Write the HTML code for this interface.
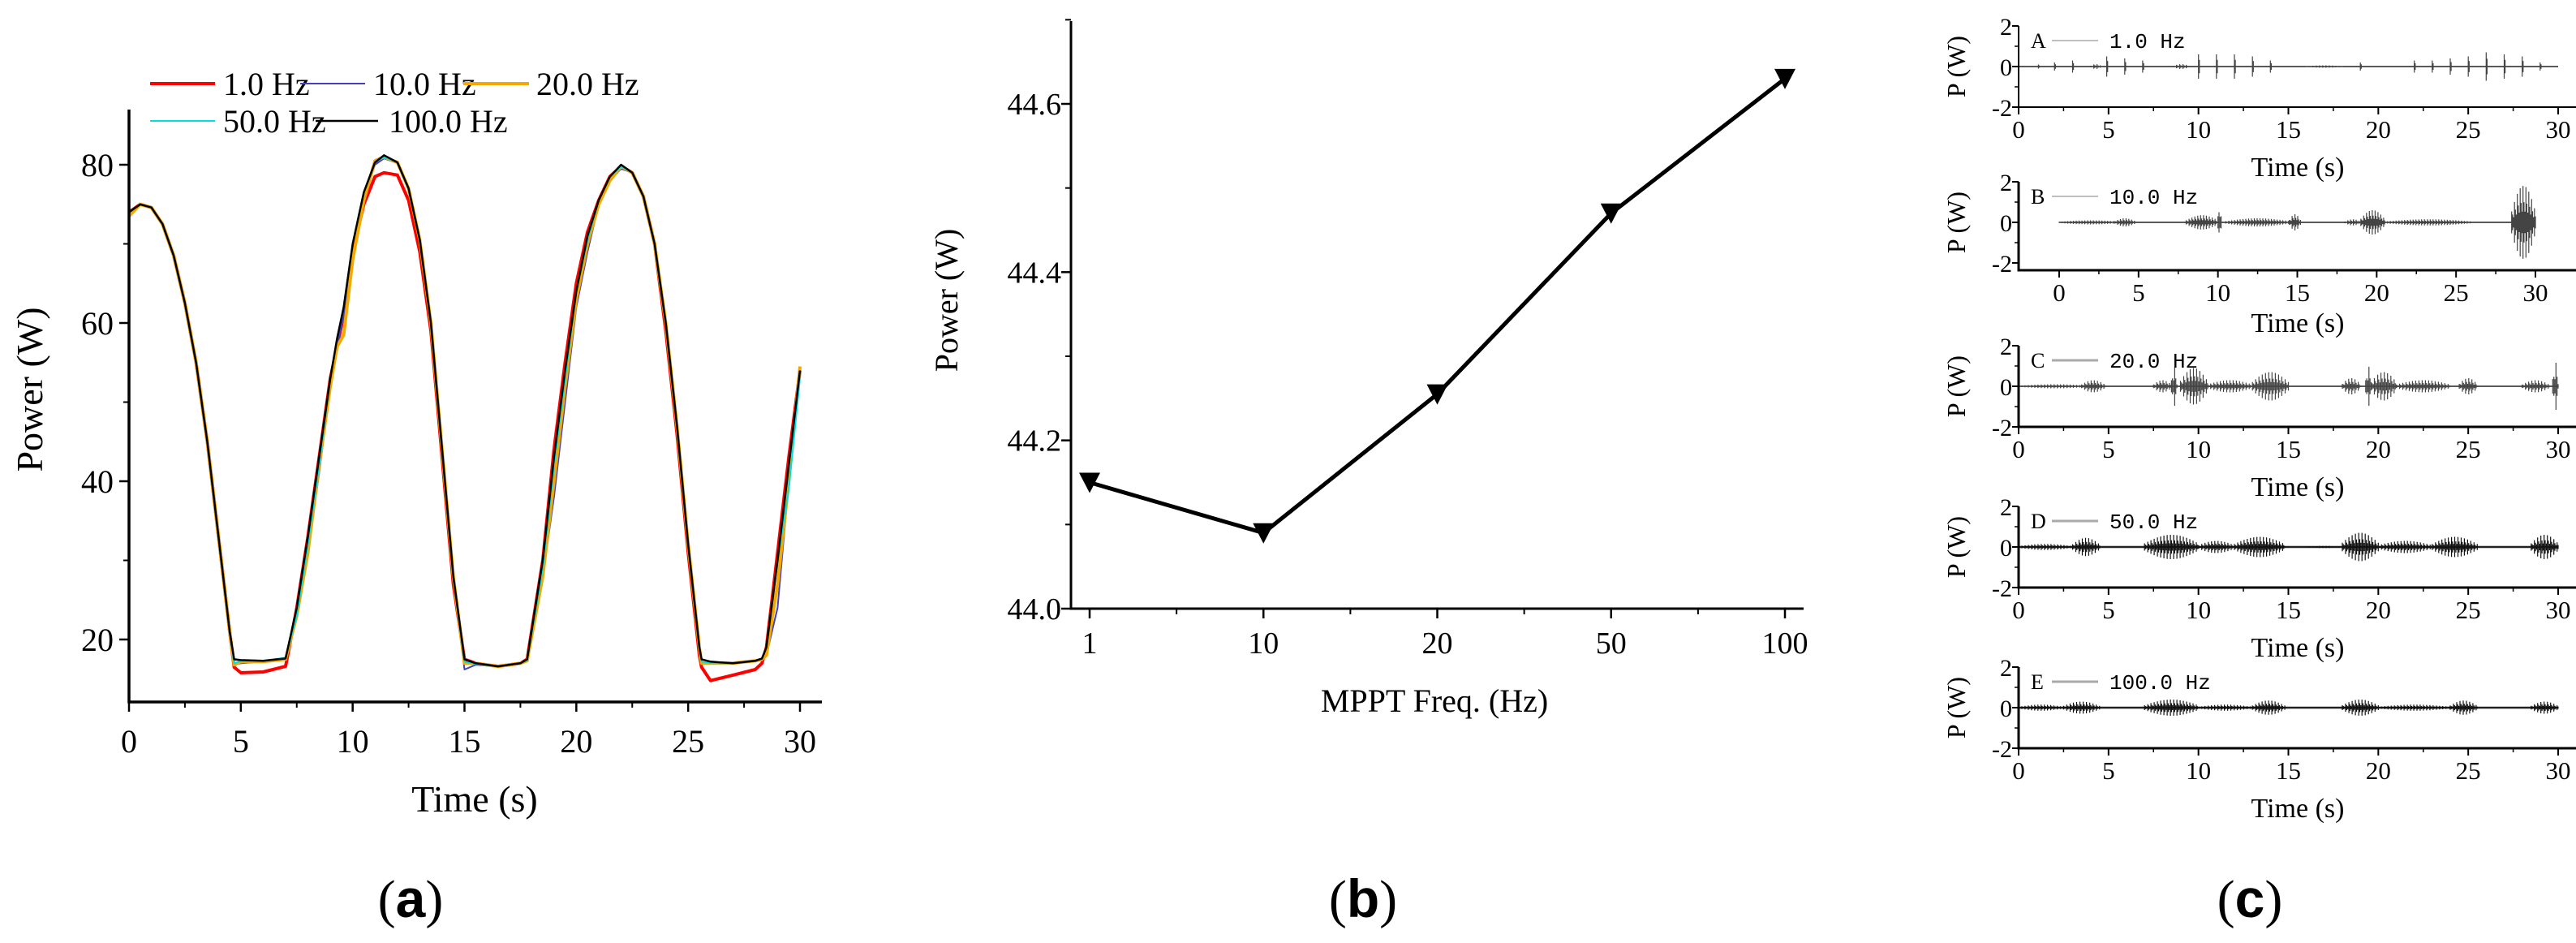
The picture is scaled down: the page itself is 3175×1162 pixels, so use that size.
<!DOCTYPE html>
<html><head><meta charset="utf-8"><style>
html,body{margin:0;padding:0;background:#fff;}
svg{display:block;font-family:"Liberation Serif",serif;}
</style></head><body>
<svg id="fig" width="3175" height="1162" viewBox="0 0 3175 1162" xmlns="http://www.w3.org/2000/svg">
<g id="ga"></g>
<g id="gb"></g>
<g id="gc"></g>
<text x="506" y="1130" font-size="66" text-anchor="middle">(<tspan font-weight="bold" font-family="Liberation Sans, sans-serif">a</tspan>)</text>
<text x="1680" y="1130" font-size="66" text-anchor="middle">(<tspan font-weight="bold" font-family="Liberation Sans, sans-serif">b</tspan>)</text>
<text x="2773" y="1130" font-size="66" text-anchor="middle">(<tspan font-weight="bold" font-family="Liberation Sans, sans-serif">c</tspan>)</text>
</svg>
<script>
// ---------- Chart (a) data ----------
const aTime = [0,0.5,1,1.5,2,2.5,3,3.5,4,4.5,4.7,5,6,7,7.5,8,8.5,9,9.3,9.6,10,10.5,11,11.4,12,12.5,13,13.5,14,14.5,15,15.5,16.5,17.5,17.8,18.5,19,19.5,20,20.5,21,21.5,22,22.5,23,23.5,24,24.5,25,25.5,25.6,26,27,28,28.3,28.5,29,29.5,30];
const aP100 = [74,75,74.6,72.5,68.5,62.5,55,45,33,21,17.5,17.4,17.3,17.6,24,33,43,53,58,62,70,76.5,80.3,81.2,80.3,77,70.5,60,44,28,17.5,17,16.6,17,17.5,30,43,54,64,71,75.5,78.5,80,79,76,70,60,47,32,19,17.5,17.2,17,17.3,17.6,19,30,42,54];
const aP1 = [74,75,74.6,72.5,68.5,62.5,55,45,33,21,16.5,15.8,15.9,16.6,24,33,43,53,57,61,69,75,78.5,79,78.7,75.5,69,59,43,27,17.5,17,16.6,17,17.5,30,44,55,65,71.5,75.5,78.5,79.8,79,76,70,59,46,31,18,16.5,14.8,15.5,16.2,17,19,31,43,54];
const aP10 = [74,75,74.6,72.5,68.5,62.5,55,45,33,21,16.8,17,17.2,17.6,23,31,41,52,57,61,70,76,80,80.8,80.2,77,70.5,60,44,28,16.2,16.8,16.6,17,17.4,28,38,50,62,69,75,78,79.5,79,76,70,60,47,32,19,17,17,17,17.3,17.5,18,24,40,54];
const aP20 = [73.5,75,74.6,72.5,68.5,62.5,55,45,33,21,16.8,17.2,17.2,17.5,23,31,42,52,57,58.5,68,75.5,80.5,81,80.3,77,70.5,60,44,28,17,17,16.6,17,17.3,28,40,52,63,70,75,78,79.8,79,76,70,60,47,32,19,17,17,17,17.3,17.5,18,27,40,54.5];
const aP50 = [74,75,74.6,72.5,68.5,62.5,55,45,33,21,17,17.3,17.3,17.7,23,32,42,53,58,62,70,76.5,80.3,81,80.3,77,70.5,60,44,28,17.2,16.9,16.6,17,17.4,29,42,53,64,70.5,75.5,78.5,79.8,79,76,70,60,47,32,19,17.2,17,17,17.3,17.6,19,30,39,53];
const aSeriesNames = ["1.0 Hz","10.0 Hz","20.0 Hz","50.0 Hz","100.0 Hz"];
const aXTicks = [0,5,10,15,20,25,30];
const aYTicks = [20,40,60,80];
// ---------- Chart (b) data ----------
const bCats = ["1","10","20","50","100"];
const bVals = [44.15,44.09,44.255,44.47,44.63];
const bYTicks = ["44.0","44.2","44.4","44.6"];
// ---------- Chart (c) data ----------
const cLetters = ["A","B","C","D","E"];
const cLegend = ["1.0 Hz","10.0 Hz","20.0 Hz","50.0 Hz","100.0 Hz"];
const cXTicks = [0,5,10,15,20,25,30];
const cYTicks = [2,0,-2];
const cBurstStart = [
 [4,8.6,16,1.1,2,3,4.9,5.9,6.9,10,11,12,13,14,19,22,23,24,25,26,27,28,29],
 [0,3.5,8,10,10.5,14.5,18,19,20.5,28.5],
 [0,3.5,7.5,8.5,9,10.5,13,18,19.3,19.6,21,24.5,28,29.7],
 [0,3,7,10,12,16,18,20,23,28.5],
 [0,2.5,7,10,13,18,20,24,28.5]];
const cBurstEnd = [
 [4.6,9.5,18,1.15,2.05,3.05,4.95,5.95,6.95,10.05,11.05,12.05,13.05,14.05,19.05,22.05,23.05,24.05,25.05,26.05,27.05,28.05,29.05],
 [4,4.8,10,10.2,14.5,15.2,19,20.5,26,30],
 [4,4.8,8.5,8.8,10.5,13,15,19,19.6,21,24,25.5,29.5,30],
 [3,4.5,10,12,14.8,18,20,23,25.5,30],
 [2.5,4.5,10,13,14.8,20,24,25.5,30]];
const cBurstAmp = [
 [0.12,0.12,0.06,0.1,0.2,0.3,0.5,0.4,0.3,0.6,0.6,0.6,0.5,0.3,0.2,0.3,0.3,0.4,0.5,0.7,0.6,0.5,0.2],
 [0.1,0.2,0.35,1.0,0.2,0.4,0.15,0.6,0.15,1.8],
 [0.1,0.3,0.3,1.0,0.9,0.3,0.7,0.4,1.0,0.7,0.3,0.4,0.3,1.2],
 [0.15,0.45,0.6,0.3,0.5,0.05,0.7,0.3,0.5,0.6],
 [0.15,0.3,0.4,0.15,0.35,0.4,0.15,0.35,0.3]];

const NS="http://www.w3.org/2000/svg";
function mk(parent,tag,attrs,text){const e=document.createElementNS(NS,tag);for(const k in attrs)e.setAttribute(k,attrs[k]);if(text!==undefined)e.textContent=text;parent.appendChild(e);return e;}

// ===== Chart (a) =====
(function(){
 const g=document.getElementById('ga');
 const x0=159,x1=986,yb=865,ytop=135;
 const X=t=>x0+(x1-x0)*t/30;
 const Y=v=>788-(v-20)*(788-203)/60;
 const series=[[aP1,"#ff0000",4],[aP10,"#4040c0",2],[aP20,"#f5a800",4],[aP50,"#00e0e0",2],[aP100,"#000000",2.5]];
 series.forEach((s,i)=>{
  const d=aTime.map((t,j)=>(j?'L':'M')+X(t).toFixed(1)+','+Y(s[0][j]).toFixed(1)).join('');
  const p=mk(g,'path',{d:d,fill:'none',stroke:s[1],'stroke-width':s[2],'stroke-linejoin':'round'});
  
  
 });
 const ya=mk(g,'line',{x1:x0,x2:x0,y1:ytop,y2:yb+1.5,stroke:'#000','stroke-width':3.5});
 
 
 const xa=mk(g,'line',{x1:x0-1.5,x2:1013,y1:yb,y2:yb,stroke:'#000','stroke-width':3.5});
 
 
 aXTicks.forEach(t=>{
  mk(g,'line',{x1:X(t),x2:X(t),y1:yb,y2:yb+12,stroke:'#000','stroke-width':2.5});
  if(t<30) mk(g,'line',{x1:X(t+2.5),x2:X(t+2.5),y1:yb,y2:yb+7,stroke:'#000','stroke-width':2});
  const tl=mk(g,'text',{x:X(t),y:927,'font-size':40,'text-anchor':'middle'},String(t));
  
  
 });
 aYTicks.forEach(v=>{
  mk(g,'line',{x1:x0-12,x2:x0,y1:Y(v),y2:Y(v),stroke:'#000','stroke-width':2.5});
  if(v>20) mk(g,'line',{x1:x0-7,x2:x0,y1:Y(v-10),y2:Y(v-10),stroke:'#000','stroke-width':2});
  const tl=mk(g,'text',{x:140,y:Y(v)+14,'font-size':40,'text-anchor':'end'},String(v));
  
  
 });
 const xt=mk(g,'text',{x:585,y:1000,'font-size':46,'text-anchor':'middle'},'Time (s)');
 
 
 const yt2=mk(g,'text',{x:0,y:0,'font-size':46,'text-anchor':'middle',transform:'translate(52,480) rotate(-90)'},'Power (W)');
 
 
 const leg=[[185,265,275,103,0],[370,450,460,103,1],[571,652,661,103,2],[185,265,275,149,3],[389,466,479,149,4]];
 leg.forEach(l=>{
  const s=series[l[4]];
  const lg=mk(g,'g',{});
  
  
  mk(lg,'line',{x1:l[0],x2:l[1],y1:l[3],y2:l[3],stroke:s[1],'stroke-width':s[2]});
  mk(lg,'text',{x:l[2],y:l[3]+14,'font-size':40},aSeriesNames[l[4]]);
 });
})();

// ===== Chart (b) =====
(function(){
 const g=document.getElementById('gb');
 const xa=1320,yb=750;
 const xs=[1343,1557,1770,1984,2200];
 const X=i=>xs[0]+(xs[4]-xs[0])*i/4;
 const Y=v=>yb-(v-44.0)*(622/0.6);
 const d=bVals.map((v,i)=>(i?'L':'M')+X(i).toFixed(1)+','+Y(v).toFixed(1)).join('');
 const ln=mk(g,'path',{d:d,fill:'none',stroke:'#000','stroke-width':5});
 
 
 bVals.forEach((v,i)=>{
  const cx=X(i),cy=Y(v);
  const m=mk(g,'path',{d:`M${cx-13},${cy-12}L${cx+13},${cy-12}L${cx},${cy+13}Z`,fill:'#000'});
  
  
  const tl=mk(g,'text',{x:cx,y:805,'font-size':38,'text-anchor':'middle'},bCats[i]);
  
  
  mk(g,'line',{x1:cx,x2:cx,y1:yb,y2:yb+12,stroke:'#000','stroke-width':2.5});
  if(i<4) mk(g,'line',{x1:cx+(X(1)-X(0))/2,x2:cx+(X(1)-X(0))/2,y1:yb,y2:yb+7,stroke:'#000','stroke-width':2});
 });
 const ax=mk(g,'path',{d:`M${xa},26V${yb}H2223`,fill:'none',stroke:'#000','stroke-width':3});
 
 
 bYTicks.forEach(t=>{
  const v=parseFloat(t);
  mk(g,'line',{x1:xa-12,x2:xa,y1:Y(v),y2:Y(v),stroke:'#000','stroke-width':2.5});
  mk(g,'line',{x1:xa-7,x2:xa,y1:Y(v+0.1),y2:Y(v+0.1),stroke:'#000','stroke-width':2});
  const tl=mk(g,'text',{x:1308,y:Y(v)+13,'font-size':38,'text-anchor':'end'},t);
  
  
 });
 const xt=mk(g,'text',{x:1768,y:877,'font-size':40,'text-anchor':'middle'},'MPPT Freq. (Hz)');
 
 
 const yt=mk(g,'text',{x:0,y:0,'font-size':40,'text-anchor':'middle',transform:'translate(1180,370) rotate(-90)'},'Power (W)');
 
 
})();

// ===== Chart (c) =====
(function(){
 const g=document.getElementById('gc');
 const zeros=[82,274,476,674,872];
 const xa=2488;
 cLetters.forEach((L,p)=>{
  const pg=mk(g,'g',{});
  
  
  const y0=zeros[p];
  const Y=v=>y0-v*25;
  const x0=p===1?2538:2488, x30=p===1?3125:3153;
  const X=t=>x0+(x30-x0)*t/30;
  mk(pg,'line',{x1:X(0),x2:X(30),y1:y0,y2:y0,stroke:'#222','stroke-width':p>=3?2.5:1.5});
  let d='';
  cBurstStart[p].forEach((s,k)=>{
   const e=cBurstEnd[p][k],a=cBurstAmp[p][k];
   const n=Math.max(1,Math.round((e-s)/0.06));
   for(let j=0;j<=n;j++){
    const t=s+(e-s)*j/Math.max(n,1);
    const env=n>1?(0.3+0.7*Math.sin(Math.PI*j/n)):1;
    const amp=a*env*(j%3===0?1:(j%3===1?0.55:0.3));
    d+=`M${X(t).toFixed(1)},${Y(amp).toFixed(1)}V${Y(-amp).toFixed(1)}`;
   }
  });
  const sig=mk(pg,'path',{d:d,stroke:p>=3?'#111':'#444','stroke-width':1.2,fill:'none'});
  
  
  const yb=Y(-2)+(p===1?9:0);
  mk(pg,'path',{d:`M${xa},${Y(2)}V${yb}H3175`,fill:'none',stroke:'#000','stroke-width':p===0?2:3});
  cYTicks.forEach(v=>{
   mk(pg,'line',{x1:xa-8,x2:xa,y1:Y(v),y2:Y(v),stroke:'#000','stroke-width':2});
   const tl=mk(pg,'text',{x:2480,y:Y(v)+11,'font-size':30,'text-anchor':'end'},String(v));
   
   
  });
  [1,-1].forEach(v=>mk(pg,'line',{x1:xa-5,x2:xa,y1:Y(v),y2:Y(v),stroke:'#000','stroke-width':1.5}));
  cXTicks.forEach(t=>{
   mk(pg,'line',{x1:X(t),x2:X(t),y1:yb,y2:yb+9,stroke:'#000','stroke-width':2});
   if(t<30) mk(pg,'line',{x1:X(t+2.5),x2:X(t+2.5),y1:yb,y2:yb+5,stroke:'#000','stroke-width':1.5});
   const tl=mk(pg,'text',{x:X(t),y:yb+38,'font-size':31,'text-anchor':'middle'},String(t));
   
   
  });
  const xt=mk(pg,'text',{x:2832,y:Y(-2)+85,'font-size':34,'text-anchor':'middle'},'Time (s)');
  
  
  const yt=mk(pg,'text',{x:0,y:0,'font-size':32,'text-anchor':'middle',transform:`translate(2422,${y0}) rotate(-90)`},'P (W)');
  
  
  const lt=mk(pg,'text',{x:2503,y:Y(2)+27,'font-size':26},L);
  
  
  mk(pg,'line',{x1:2529,x2:2586,y1:Y(2)+18,y2:Y(2)+18,stroke:'#aaa','stroke-width':p>=2?3:1.5});
  const lg=mk(pg,'text',{x:2600,y:Y(2)+27,'font-size':26,'font-family':'Liberation Mono, monospace'},cLegend[p]);
  
  
 });
})();
</script>
</body></html>
